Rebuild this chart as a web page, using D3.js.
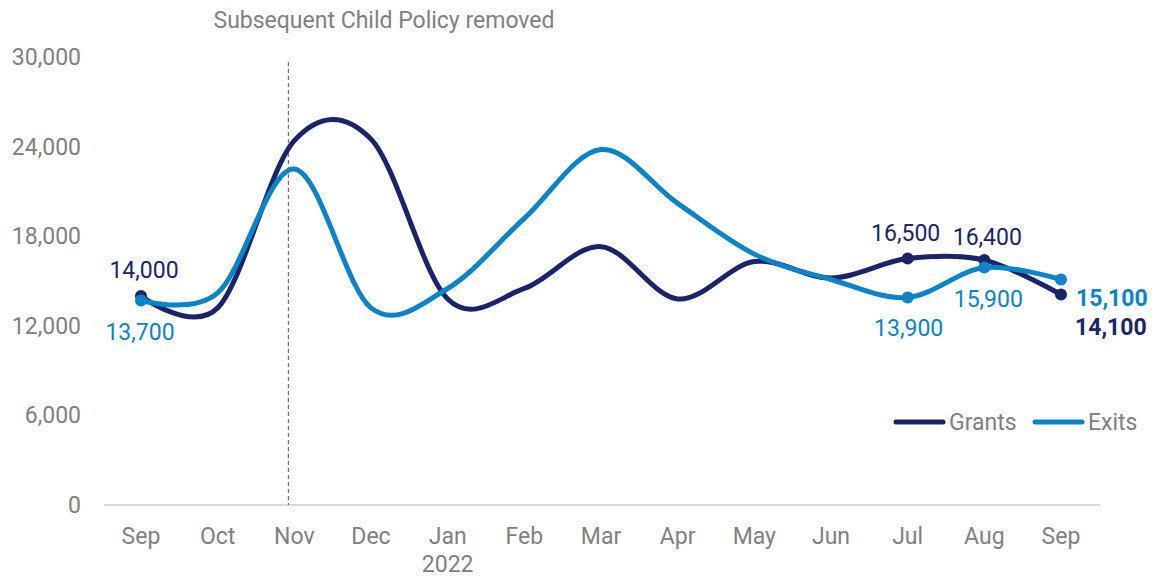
<!DOCTYPE html>
<meta charset="utf-8">
<script src="https://d3js.org/d3.v7.min.js"></script>
<html>
<head>
<style>
body { margin: 0; background: #fff; }
svg text { font-family: Roboto, "Noto Sans", sans-serif; }
</style>
</head>
<body>
<svg id="chart" width="1158" height="577"></svg>
<script>

// month labels (Sep 2021 - Sep 2022)
var months = ["Sep", "Oct", "Nov", "Dec", "Jan", "Feb", "Mar", "Apr", "May", "Jun", "Jul", "Aug", "Sep"];
var keys = months.map(function(m, i){ return i; });

// series values
var grants = [14000, 13200, 24400, 24500, 13800, 14500, 17300, 13800, 16300, 15200, 16500, 16400, 14100];
var exits  = [13700, 14200, 22500, 13200, 14500, 19200, 23800, 20200, 16800, 15100, 13900, 15900, 15100];

var yTicks = [0, 6000, 12000, 18000, 24000, 30000];

var navy = "#1b2468", blue = "#0a84c8", grey = "#808080";

var svg = d3.select("#chart");

var x = d3.scalePoint()
    .domain(keys)
    .range([141, 1061]);

var y = d3.scaleLinear()
    .domain([0, 30000])
    .range([505, 57]);

// y axis labels
svg.append("g")
  .selectAll("text")
  .data(yTicks)
  .enter()
  .append("text")
    .attr("x", 81)
    .attr("y", function(d){ return y(d) + 8; })
    .attr("text-anchor", "end")
    .style("font-size", "23px")
    .style("fill", grey)
    .text(function(d){ return d3.format(",")(d); });

// baseline
svg.append("line")
  .attr("x1", 104).attr("x2", 1100)
  .attr("y1", y(0)).attr("y2", y(0))
  .style("stroke", "#d9d9d9")
  .style("stroke-width", 2);

// month labels
svg.append("g")
  .selectAll("text")
  .data(keys)
  .enter()
  .append("text")
    .attr("x", function(d){ return x(d); })
    .attr("y", 544)
    .attr("text-anchor", "middle")
    .style("font-size", "23px")
    .style("fill", grey)
    .text(function(d){ return months[d]; });

svg.append("text")
  .attr("x", x(4))
  .attr("y", 572)
  .attr("text-anchor", "middle")
  .style("font-size", "23px")
  .style("fill", grey)
  .text("2022");

// policy change marker
var px = x(2) - 6;
svg.append("line")
  .attr("x1", px).attr("x2", px)
  .attr("y1", 62).attr("y2", y(0))
  .style("stroke", "#595959")
  .style("stroke-width", 1)
  .style("stroke-dasharray", "4,3");

svg.append("text")
  .attr("x", 384)
  .attr("y", 28)
  .attr("text-anchor", "middle")
  .style("font-size", "23px")
  .style("fill", grey)
  .text("Subsequent Child Policy removed");

// lines
var line = d3.line()
    .x(function(d, i){ return x(i); })
    .y(function(d){ return y(d); })
    .curve(d3.curveCatmullRom.alpha(0));

svg.append("path")
  .datum(grants)
  .attr("d", line)
  .style("fill", "none")
  .style("stroke", navy)
  .style("stroke-width", 5);

svg.append("path")
  .datum(exits)
  .attr("d", line)
  .style("fill", "none")
  .style("stroke", blue)
  .style("stroke-width", 5);

// markers on labelled points
var marked = [0, 10, 11, 12];
svg.selectAll("gDots")
  .data(marked)
  .enter()
  .append("circle")
    .attr("cx", function(d){ return x(d); })
    .attr("cy", function(d){ return y(grants[d]); })
    .attr("r", 6)
    .style("fill", navy);

svg.selectAll("eDots")
  .data(marked)
  .enter()
  .append("circle")
    .attr("cx", function(d){ return x(d); })
    .attr("cy", function(d){ return y(exits[d]); })
    .attr("r", 6)
    .style("fill", blue);

// data labels
var fmt = d3.format(",");
var labels = [
  {i: 0,  v: grants[0],  c: navy, dx: 3,  dy: -18, bold: false, anchor: "middle"},
  {i: 0,  v: exits[0],   c: blue, dx: -1, dy: 40,  bold: false, anchor: "middle"},
  {i: 10, v: grants[10], c: navy, dx: -2, dy: -18, bold: false, anchor: "middle"},
  {i: 11, v: grants[11], c: navy, dx: 3,  dy: -15, bold: false, anchor: "middle"},
  {i: 10, v: exits[10],  c: blue, dx: 1,  dy: 39,  bold: false, anchor: "middle"},
  {i: 11, v: exits[11],  c: blue, dx: 4,  dy: 39,  bold: false, anchor: "middle"},
  {i: 12, v: exits[12],  c: blue, dx: 15, dy: 26,  bold: true,  anchor: "start"},
  {i: 12, v: grants[12], c: navy, dx: 14, dy: 41,  bold: true,  anchor: "start"}
];

svg.selectAll("dLabels")
  .data(labels)
  .enter()
  .append("text")
    .attr("x", function(d){ return x(d.i) + d.dx; })
    .attr("y", function(d){ return y(d.v) + d.dy; })
    .attr("text-anchor", function(d){ return d.anchor; })
    .style("font-size", "23px")
    .style("font-weight", function(d){ return d.bold ? "bold" : "normal"; })
    .style("fill", function(d){ return d.c; })
    .text(function(d){ return fmt(d.v); });

// legend
var legend = [{name: "Grants", c: navy, x: 896}, {name: "Exits", c: blue, x: 1035}];
var lg = svg.selectAll("legend")
  .data(legend)
  .enter()
  .append("g");

lg.append("line")
  .attr("x1", function(d){ return d.x; })
  .attr("x2", function(d){ return d.x + 47; })
  .attr("y1", 422).attr("y2", 422)
  .style("stroke", function(d){ return d.c; })
  .style("stroke-width", 5)
  .style("stroke-linecap", "round");

lg.append("text")
  .attr("x", function(d){ return d.x + 53; })
  .attr("y", 430)
  .style("font-size", "23px")
  .style("fill", grey)
  .text(function(d){ return d.name; });

</script>
</body>
</html>
